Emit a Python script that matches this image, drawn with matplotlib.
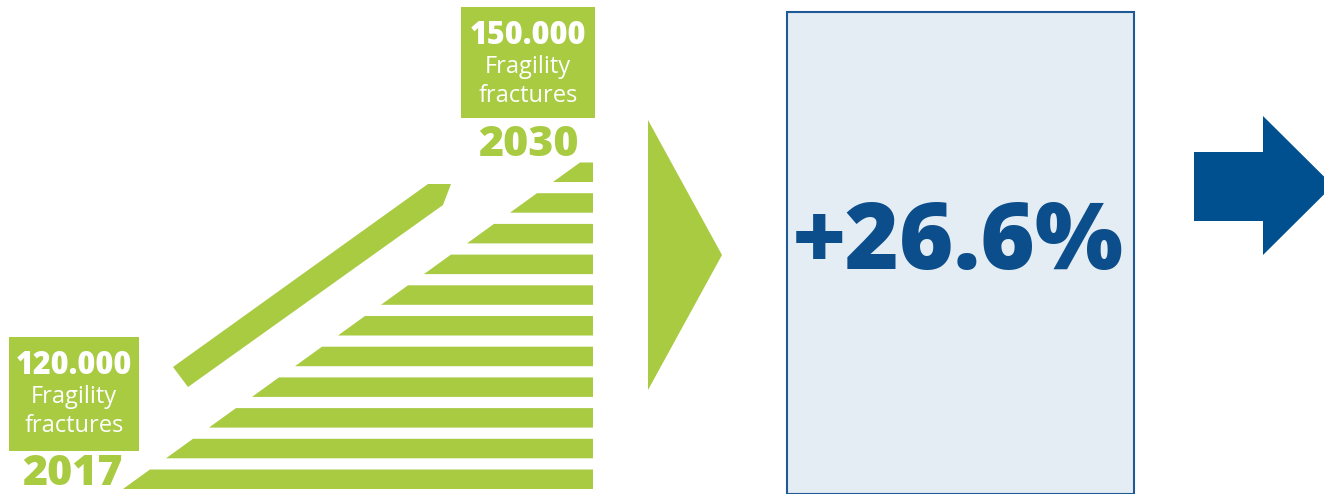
import matplotlib.pyplot as plt
import matplotlib.patches as mpatches
import numpy as np

plt.rcParams['font.family'] = ['Open Sans', 'DejaVu Sans']

# data
years = ["2017", "2030"]
fractures = [120000, 150000]
change_label = "+26.6%"
step_lengths = [470, 427, 384, 341, 298, 255, 212, 169, 126, 83, 40]  # bottom -> top, px

green = "#A8CB42"
blue_txt = "#0B4E8B"
blue_arrow = "#00508F"

W, H = 1324, 494
fig = plt.figure(figsize=(W / 100, H / 100), dpi=100)
ax = fig.add_axes([0, 0, 1, 1])
ax.set_xlim(0, W)
ax.set_ylim(H, 0)
ax.axis("off")

# stair of slanted bars
right = 593
bar_h = 19.5
slant = 27
for i, L in enumerate(step_lengths):
    yb = 489 - i * 30.7
    yt = yb - bar_h
    xl = right - L
    ax.add_patch(mpatches.Polygon([(xl, yb), (min(xl + slant, right), yt), (right, yt), (right, yb)],
                                  closed=True, fc=green, ec="none"))

# diagonal trend bar
ax.add_patch(mpatches.Polygon([(173, 367), (428, 184), (451, 184), (443, 205), (188, 387)],
                              closed=True, fc=green, ec="none"))

# value boxes
boxes = [(9, 337, 130, 114), (461, 7, 134, 111)]
for (x, y, w, h), n in zip(boxes, fractures):
    ax.add_patch(mpatches.Rectangle((x, y), w, h, fc=green, ec="none"))
    cx = x + w / 2
    ax.text(cx, y + 29, f"{n:,}".replace(",", "."), color="white", fontsize=22, fontweight="heavy",
            ha="center", va="center")
    ax.text(cx, y + 60, "Fragility", color="white", fontsize=17, ha="center", va="center")
    ax.text(cx, y + 89, "fractures", color="white", fontsize=17, ha="center", va="center")

ax.text(72, 474, years[0], color=green, fontsize=31, fontweight="heavy", ha="center", va="center")
ax.text(528, 145, years[1], color=green, fontsize=31, fontweight="heavy", ha="center", va="center")

# green triangle
ax.add_patch(mpatches.Polygon([(648, 120), (722, 255), (648, 390)], closed=True, fc=green, ec="none"))

# light blue panel
ax.add_patch(mpatches.Rectangle((787, 12), 347, 482, fc="#E4ECF4", ec="#1F5A96", lw=1.5))
ax.text(958, 245, change_label, color=blue_txt, fontsize=67, fontweight="heavy",
        ha="center", va="center")

# blue arrow
ax.add_patch(mpatches.Polygon([(1194, 152), (1263, 152), (1263, 116), (1333, 185.5),
                               (1263, 255), (1263, 221), (1194, 221)],
                              closed=True, fc=blue_arrow, ec="none"))

fig.savefig("out.png", dpi=100)
